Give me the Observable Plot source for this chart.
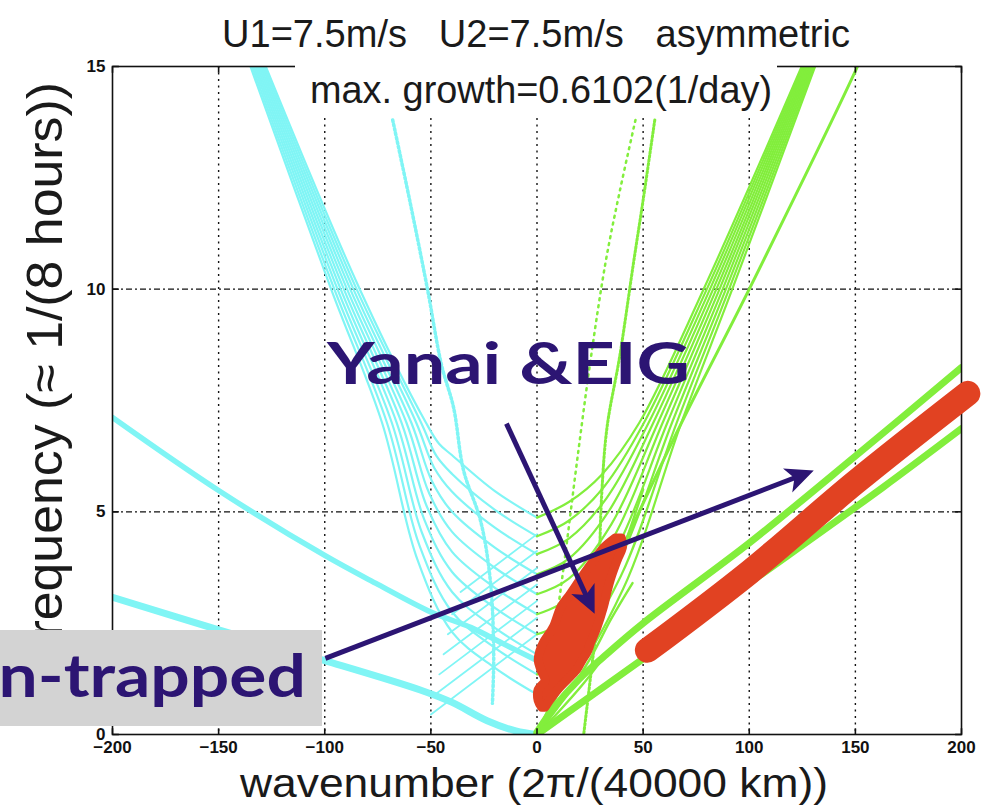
<!DOCTYPE html>
<html>
<head>
<meta charset="utf-8">
<script src="https://cdn.jsdelivr.net/npm/d3@7"></script>
<script src="https://cdn.jsdelivr.net/npm/@observablehq/plot@0.6"></script>
<style>
  html, body { margin: 0; padding: 0; background: #fff; }
  #chart { width: 990px; height: 808px; overflow: hidden; }
</style>
</head>
<body>
<div id="chart"></div>
<script>
// ---------- texts ----------
const titleText = "U1=7.5m/s   U2=7.5m/s   asymmetric";
const subtitleText = "max. growth=0.6102(1/day)";
const xLabelText = "wavenumber (2\u03c0/(40000 km))";
const yLabelText = "frequency (\u2248 1/(8 hours))";
const yanaiText = "Yanai &EIG";
const nonTrappedText = "Non-trapped";

// ---------- axes ----------
const xDomain = [-200, 200];
const yDomain = [0, 15];
const xTicks = [-200, -150, -100, -50, 0, 50, 100, 150, 200];
const yTicks = [0, 5, 10, 15];
const xGrid = [-150, -100, -50, 0, 50, 100, 150];
const yGrid = [5, 10];

// ---------- cyan: westward branches ----------
const westIG = [
  [[-135,15],[-97,10],[-73,7],[-56.5,3.95],[-40,2.3],[-20,1.5],[0,0.9]],
  [[-134.2,15],[-95.5,10],[-70.7,7],[-55.35,4.24],[-40,2.75],[-20,1.95],[0,1.35]],
  [[-133.4,15],[-94,10],[-68.4,7],[-54.2,4.53],[-40,3.2],[-20,2.4],[0,1.8]],
  [[-132.6,15],[-92.5,10],[-66.1,7],[-53.05,4.82],[-40,3.65],[-20,2.85],[0,2.25]],
  [[-131.8,15],[-91,10],[-63.8,7],[-51.9,5.12],[-40,4.1],[-20,3.3],[0,2.7]],
  [[-131,15],[-89.5,10],[-61.5,7],[-50.75,5.41],[-40,4.55],[-20,3.75],[0,3.15]],
  [[-130.2,15],[-88,10],[-59.2,7],[-49.6,5.7],[-40,5.0],[-20,4.2],[0,3.6]],
  [[-129.4,15],[-86.5,10],[-56.9,7],[-48.45,5.99],[-40,5.45],[-20,4.65],[0,4.05]],
  [[-128.6,15],[-85,10],[-54.6,7],[-47.3,6.25],[-40,5.85],[-20,5.05],[0,4.45]],
  [[-127.8,15],[-83.5,10],[-52.3,7],[-46.15,6.53],[-40,6.27],[-20,5.47],[0,4.87]]
];
const westMesh = [
  [[-50,0.45],[0,2.25]],
  [[-48,0.9],[0,2.62]],
  [[-46,1.35],[0,3.0]],
  [[-44,1.8],[0,3.37]],
  [[-42,2.25],[0,3.74]],
  [[-40,2.7],[0,4.12]],
  [[-36,3.2],[0,4.5]]
];
const westNonTrappedUpper = [[-200,7.12],[-150,5.48],[-100,4.02],[-75,3.37],[-50,2.75],[-31,2.4],[-16,2.04],[0,1.66]];
const westNonTrappedLower = [[-200,3.08],[-150,2.35],[-100,1.66],[-55,1.0],[-40,0.72],[-23.5,0.31],[-10,0.08],[0,0]];
const westSteepDotted = [[-68,13.8],[-60,12],[-51.6,10],[-45,8.3],[-39.3,7.34],[-34.6,5.93],[-26.6,4.8],[-22,3.46],[-20.4,1.82],[-21,0.7]];

// ---------- green: eastward branches ----------
const eastIG = [
  [[0,0.9],[15,1.25],[40.5,3.26],[68,7],[92,10],[131,15]],
  [[0,1.35],[15,1.7],[39.4,3.55],[65.8,7],[90.5,10],[130.3,15]],
  [[0,1.8],[15,2.15],[38.3,3.85],[63.6,7],[89,10],[129.6,15]],
  [[0,2.25],[15,2.6],[37.2,4.14],[61.4,7],[87.5,10],[128.9,15]],
  [[0,2.7],[15,3.05],[36.1,4.43],[59.2,7],[86,10],[128.2,15]],
  [[0,3.15],[15,3.5],[35,4.72],[57,7],[84.5,10],[127.5,15]],
  [[0,3.6],[15,3.95],[33.9,5.02],[54.8,7],[83,10],[126.8,15]],
  [[0,4.05],[15,4.4],[32.8,5.31],[52.6,7],[81.5,10],[126.1,15]],
  [[0,4.45],[15,4.8],[31.7,5.57],[50.4,7],[80,10],[125.4,15]],
  [[0,4.87],[15,5.22],[30.6,5.84],[48.2,7],[78.5,10],[124.7,15]]
];
const eastKelvin = [[0,0],[64,6.6],[100,10],[151,15],[160,16]];
const eastUpperBand = [[0,0.05],[8,0.6],[20,1.25],[31.5,1.75],[50,2.5],[100,4.3],[150,6.25],[200,8.24]];
const eastLowerBand = [[0,0],[25,0.85],[48.8,1.66],[100,3.4],[163,5.55],[200,6.87]];
const eastOriginFan = [
  [[0,0],[15,1.4],[28,2.7],[40,4.1],[50,5.5]],
  [[0,0],[12,0.75],[25,1.7],[35,2.6],[45,3.4]],
  [[0,0],[10,0.5],[22,1.15],[34,1.9]]
];
const eastDottedSparse = [[46.4,13.8],[39,12.2],[32.3,10.6],[25.2,8.4],[18.9,6.15],[13.5,4.1],[9,2.5],[5,1.1]];
const eastDottedDense = [[55.5,13.8],[50,12],[45.5,10.6],[39,8.5],[33,6.9],[30.5,5.4],[29.5,4],[29,2.8],[26,1.6],[24,0.8],[22,0]];

// ---------- red: unstable modes ----------
const redBand = [[52,1.89],[100,3.64],[150,5.66],[203,7.66]];
const redYanaiY     = [0.6, 0.75, 1.0, 1.2, 1.45, 1.66, 1.85, 2.05, 2.4, 2.85, 3.15, 3.5, 3.9, 4.2, 4.4];
const redYanaiLeft  = [2.5, 0.8, 0.8, 4, 2, 0.8, 1.5, 3.2, 7.9, 11.5, 16, 21, 27, 32, 37];
const redYanaiRight = [4, 6, 10, 14, 19, 21.5, 24, 25.5, 28.5, 31.5, 33, 35, 38, 40.5, 40];

// ---------- annotation arrows (data coordinates) ----------
const arrows = [
  {x1: -14.4, y1: 6.98, x2: 25.5, y2: 2.88},
  {x1: -99.7, y1: 1.71, x2: 126.7, y2: 5.86}
];

// ---------- styling ----------
const cyan = "#80f5f5", green = "#82ee3c", red = "#e14222", navy = "#2c1573";
const rows = (curves, tag) => curves.flatMap((c, i) => c.map(([x, y]) => ({x, y, id: tag + i})));
const pts = (c) => c.map(([x, y]) => ({x, y}));
const yanaiRows = redYanaiY.map((y, i) => ({y, x1: redYanaiLeft[i], x2: redYanaiRight[i]}));
const fmt = d => d < 0 ? "\u2212" + (-d) : String(d);

function stealth(color) {
  const m = d3.create("svg:marker")
    .attr("viewBox", "-5 -5 10 10")
    .attr("markerWidth", 5.6).attr("markerHeight", 5.6)
    .attr("orient", "auto").attr("refX", 2)
    .attr("fill", color).attr("stroke", "none");
  m.append("path").attr("d", "M5,0L-5,-4.6L-2.4,0L-5,4.6Z");
  return m.node();
}

function build(markerEnd) {
  const L = (data, o) => Plot.line(data, {x: "x", y: "y", curve: "catmull-rom", clip: true, ...o});
  return Plot.plot({
    width: 990, height: 808,
    marginLeft: 112, marginRight: 29, marginTop: 66, marginBottom: 74,
    x: {domain: xDomain, axis: null},
    y: {domain: yDomain, axis: null},
    style: {background: "#fff", fontFamily: "Liberation Sans, Arial, sans-serif"},
    marks: [
      Plot.ruleX(xGrid, {stroke: "#111", strokeWidth: 1.4, strokeDasharray: "2,4.5"}),
      Plot.ruleY(yGrid, {stroke: "#111", strokeWidth: 1.4, strokeDasharray: "6,3,2,3"}),
      // cyan
      L(rows(westIG, "w"), {z: "id", stroke: cyan, strokeWidth: 2.2}),
      L(rows(westMesh, "m"), {z: "id", stroke: cyan, strokeWidth: 1.8}),
      L(pts(westNonTrappedUpper), {stroke: cyan, strokeWidth: 5.5}),
      L(pts(westNonTrappedLower), {stroke: cyan, strokeWidth: 7}),
      L(pts(westSteepDotted), {stroke: cyan, strokeWidth: 3.5, strokeDasharray: "2,2.5"}),
      // green
      L(rows(eastIG, "e"), {z: "id", stroke: green, strokeWidth: 2.2}),
      L(rows(eastOriginFan, "o"), {z: "id", stroke: green, strokeWidth: 2.4}),
      L(pts(eastKelvin), {stroke: green, strokeWidth: 3}),
      L(pts(eastUpperBand), {stroke: green, strokeWidth: 7}),
      L(pts(eastLowerBand), {stroke: green, strokeWidth: 7}),
      L(pts(eastDottedSparse), {stroke: green, strokeWidth: 2.5, strokeDasharray: "2,5"}),
      L(pts(eastDottedDense), {stroke: green, strokeWidth: 3, strokeDasharray: "2,2"}),
      Plot.frame({stroke: "#111", strokeWidth: 1.6}),
      // red
      Plot.areaX(yanaiRows, {y: "y", x1: "x1", x2: "x2", fill: red, stroke: red, strokeWidth: 9, strokeLinejoin: "round", curve: "catmull-rom"}),
      Plot.line(pts(redBand), {x: "x", y: "y", stroke: red, strokeWidth: 25, strokeLinecap: "round", curve: "catmull-rom"}),
      // ticks (inward)
      Plot.link(xTicks, {x1: d => d, x2: d => d, y1: 0, y2: 0.14, stroke: "#111", strokeWidth: 1.6}),
      Plot.link(xTicks, {x1: d => d, x2: d => d, y1: 15, y2: 14.86, stroke: "#111", strokeWidth: 1.6}),
      Plot.link(yTicks, {y1: d => d, y2: d => d, x1: -200, x2: -197, stroke: "#111", strokeWidth: 1.6}),
      Plot.link(yTicks, {y1: d => d, y2: d => d, x1: 200, x2: 197, stroke: "#111", strokeWidth: 1.6}),
      // tick labels
      Plot.text(xTicks, {x: d => d, text: fmt, frameAnchor: "bottom", dy: 18, fontSize: 17, fontWeight: "bold", fill: "#111"}),
      Plot.text(yTicks, {y: d => d, text: fmt, frameAnchor: "left", dx: -7, textAnchor: "end", fontSize: 17, fontWeight: "bold", fill: "#111"}),
      // arrows
      Plot.link(arrows, {x1: "x1", y1: "y1", x2: "x2", y2: "y2", stroke: navy, strokeWidth: 5, markerEnd})
    ]
  });
}

let svgNode;
try { svgNode = build(stealth); } catch (e) { svgNode = build("arrow"); }
document.getElementById("chart").appendChild(svgNode);

const svg = d3.select(svgNode);
function label(txt, x, y, o) {
  const t = svg.append("text").attr("x", x).attr("y", y).text(txt)
    .attr("font-family", o.family || "Liberation Sans, Arial, sans-serif")
    .attr("font-size", o.size).attr("font-weight", o.weight || "normal")
    .attr("fill", o.fill || "#1a1a1a").attr("text-anchor", o.anchor || "middle")
    .style("white-space", "pre");
  if (o.length) t.attr("textLength", o.length).attr("lengthAdjust", "spacingAndGlyphs");
  if (o.transform) t.attr("transform", o.transform).attr("x", 0).attr("y", 0);
  return t;
}
// white panel behind subtitle, grey panel behind non-trapped label
svg.append("rect").attr("x", 295).attr("y", 58).attr("width", 482).attr("height", 60).attr("fill", "#fff");
label(yLabelText, 0, 0, {size: 50, length: 570, transform: "translate(62,367) rotate(-90)"});
svg.append("rect").attr("x", 0).attr("y", 630).attr("width", 322).attr("height", 96).attr("fill", "#d3d3d3");

label(titleText, 536, 47, {size: 39, length: 628});
label(subtitleText, 541, 103, {size: 38, length: 462});
label(xLabelText, 534, 797, {size: 40, length: 588});
label(yanaiText, 327, 384, {size: 58, weight: "bold", family: "Lato, Open Sans, sans-serif", fill: navy, anchor: "start", length: 363});
label(nonTrappedText, 306, 697, {size: 60, weight: "bold", family: "Lato, Open Sans, sans-serif", fill: navy, anchor: "end", length: 400});
</script>
</body>
</html>
